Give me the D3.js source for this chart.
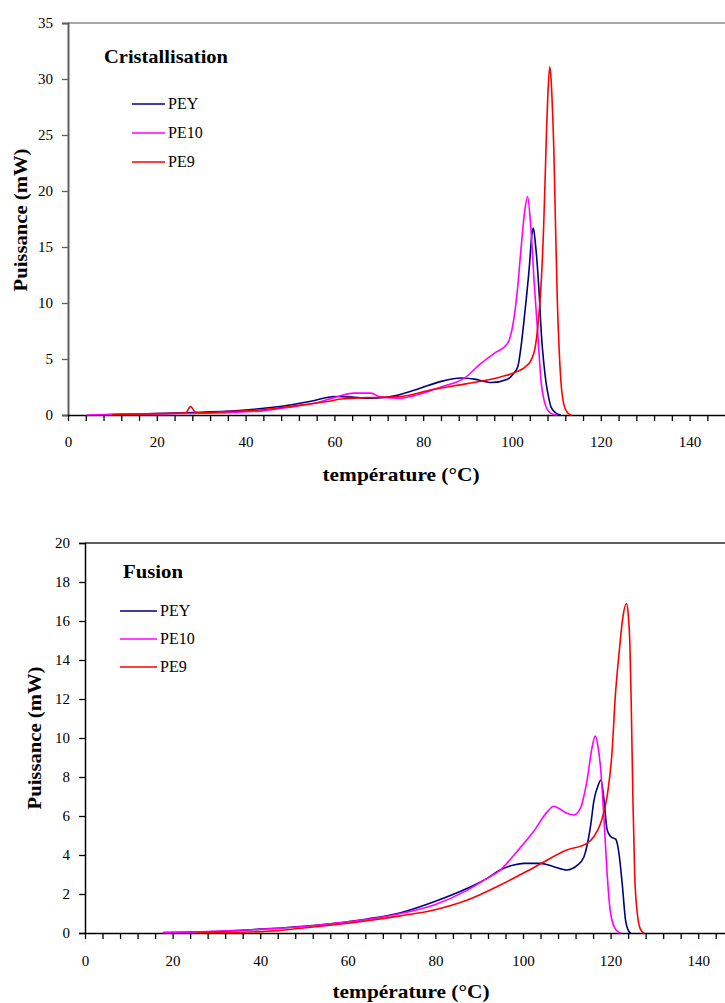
<!DOCTYPE html>
<html>
<head>
<meta charset="utf-8">
<script src="https://cdn.jsdelivr.net/npm/d3@7"></script>
<style>
  body { margin: 0; background: #fff; }
  svg { display: block; }
  svg text { font-family: "Liberation Serif", "DejaVu Serif", "Times New Roman", serif; }
</style>
</head>
<body>
<svg id="chart" width="725" height="1003"></svg>
<script>
// ---------------- DATA ----------------
const seriesNames = ["PEY", "PE10", "PE9"];
const seriesColors = ["#000080", "#ff00ff", "#ff0000"];
const xTicks = [0, 20, 40, 60, 80, 100, 120, 140];
const yTicksCrist = [0, 5, 10, 15, 20, 25, 30, 35];
const yTicksFusion = [0, 2, 4, 6, 8, 10, 12, 14, 16, 18, 20];

// Cristallisation: [temperature °C, power mW]
const cristPEY = [[7,0],[10,0.05],[20,0.12],[30,0.25],[40,0.45],[50,0.9],[55,1.25],[60,1.65],[64,1.6],[67.5,1.5],[72,1.6],[78.7,2.3],[84,3.0],[88.5,3.3],[91.5,3.2],[95.3,2.9],[99,3.2],[100.5,3.8],[101.3,4.3],[102,6],[102.8,8.8],[103.9,13.2],[104.5,16.2],[104.8,16.7],[105.3,15.2],[106.2,10.3],[106.6,7.3],[107.2,4.5],[107.7,2.8],[108.3,1.5],[108.8,0.7],[109.8,0.2],[111,0]];
const cristPE10 = [[4.2,0],[8,0.05],[20,0.1],[30,0.15],[35.8,0.2],[40,0.3],[43.3,0.35],[50.8,0.75],[56,1.1],[59.9,1.55],[64.4,1.95],[68.2,1.95],[70.4,1.6],[74.9,1.5],[78.7,1.8],[84,2.5],[89.3,3.3],[93,4.6],[96,5.5],[99,6.4],[100.5,8.8],[101.3,11.5],[102,14.7],[102.8,18],[103.5,19.5],[104.2,17],[105,11.8],[105.8,7.3],[106.6,2.8],[107.3,1.2],[108,0.45],[109,0.1],[110.2,0]];
const cristPE9 = [[10,0.05],[20,0.12],[26.5,0.2],[27.6,0.75],[28.7,0.25],[30,0.2],[35.8,0.3],[43.3,0.45],[50.8,0.8],[58.3,1.2],[62,1.45],[67.4,1.55],[74.9,1.65],[82.4,2.3],[89.9,2.8],[97.4,3.4],[101.3,3.9],[103,4.3],[104.3,4.9],[105.2,6],[105.8,7.8],[106.6,12],[107.1,16.5],[107.5,21.6],[107.8,25.7],[108.1,28.8],[108.5,31.1],[108.8,30],[109,28.4],[109.4,24],[109.8,17],[110.2,10.3],[110.6,6],[111,3.1],[111.7,0.9],[112.5,0.2],[113.3,0]];

// Fusion: [temperature °C, power mW]
const fusionPEY = [[18,0.02],[25,0.05],[30,0.08],[40,0.2],[50,0.35],[57,0.5],[64.5,0.72],[72.1,1.04],[79.7,1.6],[87.3,2.29],[91.8,2.8],[94.8,3.23],[97.9,3.49],[100.2,3.57],[104,3.57],[107,3.4],[110,3.23],[112.3,3.45],[113.9,3.9],[115.4,5.45],[116.2,6.8],[117.2,7.6],[117.8,7.85],[118.5,6.8],[119.2,5.3],[120,4.95],[121.2,4.8],[121.9,4.1],[122.7,2.4],[123.4,0.67],[124,0.15],[124.6,0]];
const fusionPE10 = [[17.7,0.02],[25,0.05],[30,0.09],[40.2,0.19],[49.3,0.32],[57,0.5],[64.5,0.7],[72.1,1.0],[79.7,1.44],[87.3,2.2],[91.8,2.8],[94.8,3.23],[98.6,4.17],[102.4,5.2],[105.5,6.2],[107,6.5],[108.5,6.35],[110,6.14],[111.6,6.05],[113.1,6.4],[114.6,7.8],[115.8,9.55],[116.5,10.1],[117.1,9.6],[117.7,8.5],[118.5,5.8],[119.2,3.06],[120,1.0],[121.2,0.17],[122.3,0]];
const fusionPE9 = [[25.7,0.02],[30,0.03],[40.2,0.07],[49.3,0.24],[57,0.42],[64.5,0.63],[72,0.88],[79.7,1.18],[87.3,1.69],[94.8,2.46],[102.4,3.35],[110,4.26],[114.6,4.6],[116.2,4.95],[117.7,5.62],[119.2,7.0],[120.4,9.5],[121,11.9],[122,14.5],[122.8,16.2],[123.6,16.9],[124,16.4],[124.4,14.8],[124.7,11.9],[125.1,6.8],[125.5,3.0],[126.1,1.0],[126.8,0.2],[127.6,0]];

// ---------------- DRAW ----------------
const svg = d3.select("#chart");
const SERIF = "'Liberation Serif', 'DejaVu Serif', serif";

function drawPanel(cfg) {
  const g = svg.append("g");
  const x = d3.scaleLinear().domain([0, 150]).range([cfg.x0, cfg.x0 + 150 * cfg.pxPerX]);
  const y = d3.scaleLinear().domain([0, cfg.yMax]).range([cfg.yBottom, cfg.yTop]);

  // top border line
  g.append("line")
    .attr("x1", cfg.x0).attr("x2", 725)
    .attr("y1", cfg.yTop).attr("y2", cfg.yTop)
    .attr("stroke", cfg.topColor).attr("stroke-width", 2);

  // y axis
  const yAxis = d3.axisLeft(y).tickValues(cfg.yTicks).tickSize(6).tickPadding(9).tickFormat(d3.format("d"));
  const ya = g.append("g").attr("transform", `translate(${cfg.x0},0)`).call(yAxis);
  ya.attr("font-family", null).attr("font-size", null);
  ya.select(".domain").attr("stroke", cfg.axisColor).attr("stroke-width", cfg.axisWidth);
  ya.selectAll(".tick line").attr("stroke", cfg.axisColor).attr("stroke-width", 1.3);
  ya.selectAll(".tick text").style("font-family", SERIF).style("font-size", "15px").attr("fill", "#000");

  // x axis (major labels + minor ticks every 4)
  const minor = d3.range(0, 152, 4);
  const xMinor = d3.axisBottom(x).tickValues(minor).tickSize(6).tickFormat("");
  const xmi = g.append("g").attr("transform", `translate(0,${cfg.yBottom})`).call(xMinor);
  xmi.select(".domain").attr("stroke", "#000").attr("stroke-width", 1.5).attr("d", `M${cfg.x0},0.5H725`);
  xmi.selectAll(".tick line").attr("stroke", "#000").attr("stroke-width", 1.3);
  const xMajor = d3.axisBottom(x).tickValues(xTicks).tickSize(0).tickPadding(0).tickFormat(d3.format("d"));
  const xma = g.append("g").attr("transform", `translate(0,${cfg.yBottom})`).call(xMajor);
  xma.attr("font-family", null).attr("font-size", null);
  xma.select(".domain").remove();
  xma.selectAll(".tick text").attr("y", cfg.xLabelOffset).attr("dy", null)
    .style("font-family", SERIF).style("font-size", "15px").attr("fill", "#000");

  // lines
  const line = d3.line().x(d => x(d[0])).y(d => y(d[1])).curve(d3.curveMonotoneX);
  cfg.series.forEach((s, i) => {
    g.append("path").datum(s)
      .attr("fill", "none")
      .attr("stroke", seriesColors[i])
      .attr("stroke-width", 1.6)
      .attr("stroke-linejoin", "round")
      .attr("d", line);
  });

  // title
  g.append("text").attr("x", cfg.titleX).attr("y", cfg.titleY)
    .attr("textLength", cfg.titleLen).attr("lengthAdjust", "spacingAndGlyphs")
    .style("font-family", SERIF).style("font-weight", "bold").style("font-size", "19px")
    .text(cfg.title);

  // legend
  seriesNames.forEach((n, i) => {
    const ly = cfg.legY + i * cfg.legStep;
    g.append("line").attr("x1", cfg.legX).attr("x2", cfg.legX + cfg.legLen)
      .attr("y1", ly).attr("y2", ly).attr("stroke", seriesColors[i]).attr("stroke-width", 1.5);
    g.append("text").attr("x", cfg.legX + cfg.legLen + 3).attr("y", ly + 5)
      .style("font-family", SERIF).style("font-size", "16px").text(n);
  });

  // axis titles
  g.append("text").attr("x", cfg.xTitleX).attr("y", cfg.xTitleY).attr("text-anchor", "middle")
    .attr("textLength", 157).attr("lengthAdjust", "spacingAndGlyphs")
    .style("font-family", SERIF).style("font-weight", "bold").style("font-size", "19px")
    .text("température (°C)");
  g.append("text")
    .attr("transform", `translate(${cfg.yTitleX},${cfg.yTitleY}) rotate(-90)`)
    .attr("text-anchor", "middle")
    .attr("textLength", 143).attr("lengthAdjust", "spacingAndGlyphs")
    .style("font-family", SERIF).style("font-weight", "bold").style("font-size", "19px")
    .text("Puissance (mW)");
}

drawPanel({
  x0: 68, pxPerX: 4.44, yTop: 23, yBottom: 415, yMax: 35, yTicks: yTicksCrist,
  topColor: "#a8a8a8", axisColor: "#606060", axisWidth: 2, xLabelOffset: 32,
  series: [cristPEY, cristPE10, cristPE9],
  title: "Cristallisation", titleX: 104, titleY: 63, titleLen: 124,
  legX: 132, legLen: 33, legY: 104, legStep: 29,
  xTitleX: 401, xTitleY: 481, yTitleX: 27, yTitleY: 220
});

drawPanel({
  x0: 85, pxPerX: 4.38, yTop: 543, yBottom: 933, yMax: 20, yTicks: yTicksFusion,
  topColor: "#606060", axisColor: "#000", axisWidth: 1.5, xLabelOffset: 33,
  series: [fusionPEY, fusionPE10, fusionPE9],
  title: "Fusion", titleX: 123, titleY: 578, titleLen: 60,
  legX: 120, legLen: 37, legY: 611, legStep: 28,
  xTitleX: 411, xTitleY: 998, yTitleX: 41, yTitleY: 738
});
</script>
</body>
</html>
